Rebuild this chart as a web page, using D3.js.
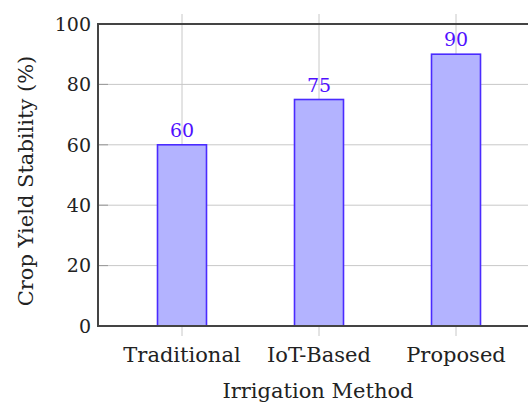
<!DOCTYPE html>
<html>
<head>
<meta charset="utf-8">
<script src="https://cdn.jsdelivr.net/npm/d3@7"></script>
<style>
  body { margin: 0; background: #fff; }
  text { font-family: "DejaVu Serif", "Liberation Serif", serif; }
</style>
</head>
<body>
<svg id="chart" width="528" height="403"></svg>
<script>
var categories = ["Traditional", "IoT-Based", "Proposed"];
var values = [60, 75, 90];
var yTicks = [0, 20, 40, 60, 80, 100];

var svg = d3.select("#chart");
var plotL = 98, plotR = 540, plotT = 24, plotB = 326;

// point scale for category centers, padded like pgfplots' enlarge x limits
var x = d3.scalePoint().domain(categories).range([182, 456]);
var y = d3.scaleLinear().domain([0, 100]).range([plotB, plotT]);
var barW = 49;

// grid
svg.append("g").selectAll("line")
    .data(yTicks)
    .join("line")
    .attr("x1", plotL).attr("x2", plotR)
    .attr("y1", d => y(d)).attr("y2", d => y(d))
    .attr("stroke", "#c8c8c8").attr("stroke-width", 1);

svg.append("g").selectAll("line")
    .data(categories)
    .join("line")
    .attr("x1", d => x(d)).attr("x2", d => x(d))
    .attr("y1", plotT - 10).attr("y2", plotB + 10)
    .attr("stroke", "#c8c8c8").attr("stroke-width", 1);

// small inner ticks on y axis
svg.append("g").selectAll("line")
    .data(yTicks)
    .join("line")
    .attr("x1", plotL).attr("x2", plotL + 10)
    .attr("y1", d => y(d)).attr("y2", d => y(d))
    .attr("stroke", "#999").attr("stroke-width", 1);

// bars
svg.append("g").selectAll("rect")
    .data(values)
    .join("rect")
    .attr("x", (d, i) => x(categories[i]) - barW / 2)
    .attr("y", d => y(d))
    .attr("width", barW)
    .attr("height", d => y(0) - y(d))
    .attr("fill", "#b3b3ff")
    .attr("stroke", "#4a2bff")
    .attr("stroke-width", 1.6);

// values above bars
svg.append("g").selectAll("text")
    .data(values)
    .join("text")
    .attr("x", (d, i) => x(categories[i]))
    .attr("y", d => y(d) - 8)
    .attr("text-anchor", "middle")
    .attr("font-size", 19)
    .attr("fill", "#5010ff")
    .text(d => d);

// frame
svg.append("path")
    .attr("d", `M${plotR},${plotT}H${plotL}V${plotB}H${plotR}`)
    .attr("fill", "none")
    .attr("stroke", "#444")
    .attr("stroke-width", 2);

// y tick labels
svg.append("g").selectAll("text")
    .data(yTicks)
    .join("text")
    .attr("x", plotL - 7)
    .attr("y", d => y(d))
    .attr("dy", "0.36em")
    .attr("text-anchor", "end")
    .attr("font-size", 19)
    .attr("fill", "#222")
    .text(d => d);

// x tick labels
svg.append("g").selectAll("text")
    .data(categories)
    .join("text")
    .attr("x", d => x(d))
    .attr("y", 362)
    .attr("text-anchor", "middle")
    .attr("font-size", 21)
    .attr("fill", "#222")
    .text(d => d);

// axis titles
svg.append("text")
    .attr("x", 318).attr("y", 398)
    .attr("text-anchor", "middle")
    .attr("font-size", 21)
    .attr("fill", "#222")
    .text("Irrigation Method");

svg.append("text")
    .attr("transform", "translate(33,181) rotate(-90)")
    .attr("text-anchor", "middle")
    .attr("font-size", 21)
    .attr("fill", "#222")
    .text("Crop Yield Stability (%)");
</script>
</body>
</html>
